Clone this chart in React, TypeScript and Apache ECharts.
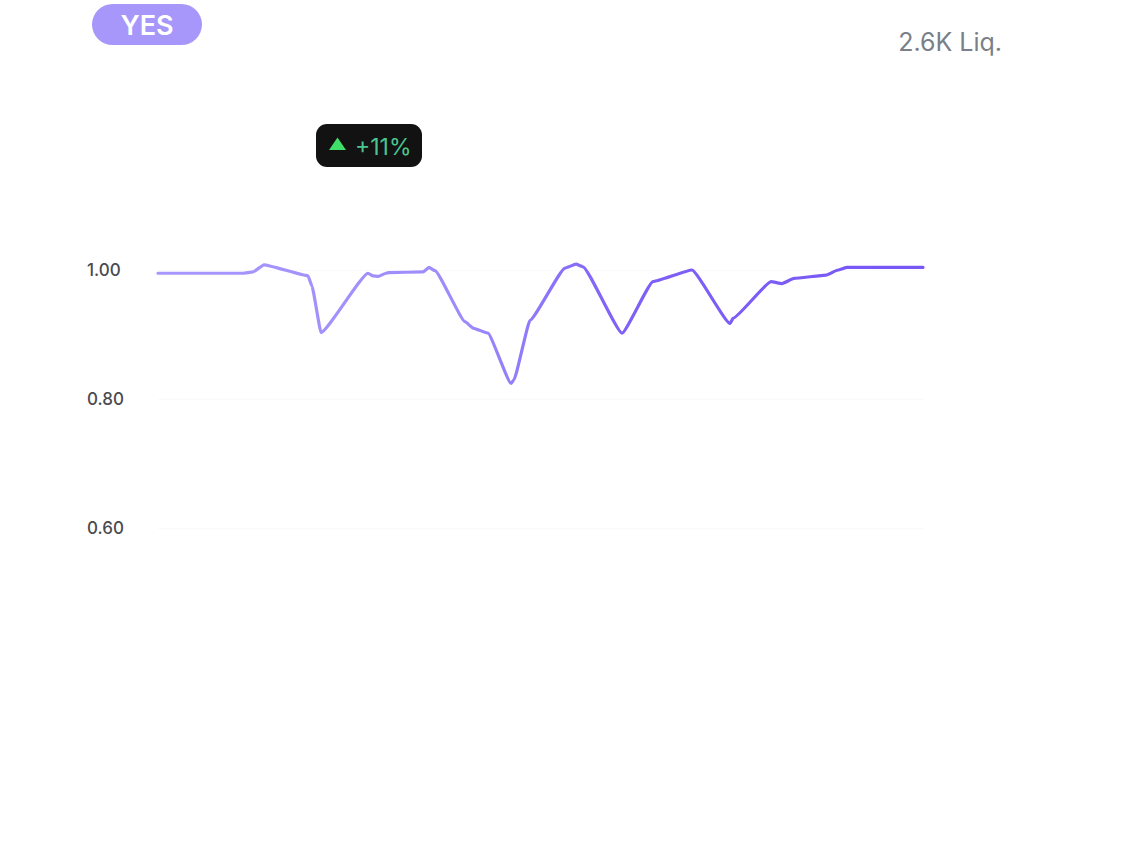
import { useEffect, useRef } from "react";
import * as echarts from "echarts";

// price history: x is elapsed time units, y is the YES price
const timePoints = [
  0, 85, 95, 106, 150, 154, 163, 210, 215, 220, 228, 231, 265, 271, 277, 307,
  315, 330, 353, 356, 372, 407, 418, 425, 464, 495, 534, 572, 575, 613, 624,
  636, 668, 680, 689, 765,
];
const priceValues = [
  0.995, 0.995, 0.997, 1.008, 0.991, 0.975, 0.903, 0.995, 0.991, 0.99, 0.995,
  0.996, 0.997, 1.004, 0.999, 0.92, 0.91, 0.902, 0.824, 0.83, 0.922, 1.003,
  1.009, 1.005, 0.902, 0.982, 1.0, 0.917, 0.925, 0.982, 0.979, 0.987, 0.992,
  1.0, 1.004, 1.004,
];
const yTicks = [0.6, 0.8, 1.0];

const outcomeLabel = "YES";
const changeLabel = "+11%";
const liquidityLabel = "2.6K Liq.";

export default function App() {
  const chartRef = useRef<HTMLDivElement>(null);

  useEffect(() => {
    if (!chartRef.current) return;
    const chart = echarts.init(chartRef.current, undefined, { renderer: "svg" });

    const option: echarts.EChartsOption = {
      animation: false,
      backgroundColor: "#ffffff",
      grid: { left: 158, right: 209, top: 270, bottom: 316 },
      xAxis: {
        type: "value",
        min: 0,
        max: 765,
        show: false,
      },
      yAxis: {
        type: "value",
        min: yTicks[0],
        max: yTicks[yTicks.length - 1],
        interval: 0.2,
        axisLine: { show: false },
        axisTick: { show: false },
        axisLabel: {
          align: "left",
          margin: 71,
          fontFamily: "Inter",
          fontSize: 17,
          fontWeight: 500,
          color: "#4a4a4f",
          formatter: (v: number) => v.toFixed(2),
        },
        splitLine: { lineStyle: { color: "#fafafa", width: 1 } },
      },
      series: [
        {
          type: "line",
          data: timePoints.map((t, i) => [t, priceValues[i]]),
          showSymbol: false,
          smooth: 0.12,
          smoothMonotone: "x",
          clip: false,
          lineStyle: {
            width: 3.2,
            cap: "round",
            join: "round",
            color: new echarts.graphic.LinearGradient(0, 0, 1, 0, [
              { offset: 0, color: "#a898fc" },
              { offset: 0.4, color: "#9e8bfb" },
              { offset: 0.6, color: "#7f61f7" },
              { offset: 1, color: "#7757f5" },
            ]),
          },
        },
      ],
      graphic: [
        {
          type: "rect",
          shape: { x: 92, y: 4, width: 110, height: 41, r: 20.5 },
          style: { fill: "#a797fb" },
        },
        {
          type: "text",
          x: 147,
          y: 25,
          style: {
            text: outcomeLabel,
            fill: "#ffffff",
            font: '600 27px "Inter"',
            align: "center",
            verticalAlign: "middle",
          },
        },
        {
          type: "text",
          x: 1002,
          y: 42,
          style: {
            text: liquidityLabel,
            fill: "#7a7f89",
            font: '400 25px "Inter"',
            align: "right",
            verticalAlign: "middle",
          },
        },
        {
          type: "rect",
          shape: { x: 316, y: 124, width: 106, height: 43, r: 11 },
          style: { fill: "#121212" },
        },
        {
          type: "polygon",
          shape: {
            points: [
              [337.5, 137.5],
              [346, 150],
              [329, 150],
            ],
          },
          style: { fill: "#3fdf68" },
        },
        {
          type: "text",
          x: 355,
          y: 147,
          style: {
            text: changeLabel,
            fill: "#4cc48e",
            font: '400 23px "Inter"',
            align: "left",
            verticalAlign: "middle",
          },
        },
      ],
    };

    chart.setOption(option);
    return () => chart.dispose();
  }, []);

  return (
    <div
      ref={chartRef}
      style={{ position: "fixed", left: 0, top: 0, width: 1132, height: 844 }}
    />
  );
}
